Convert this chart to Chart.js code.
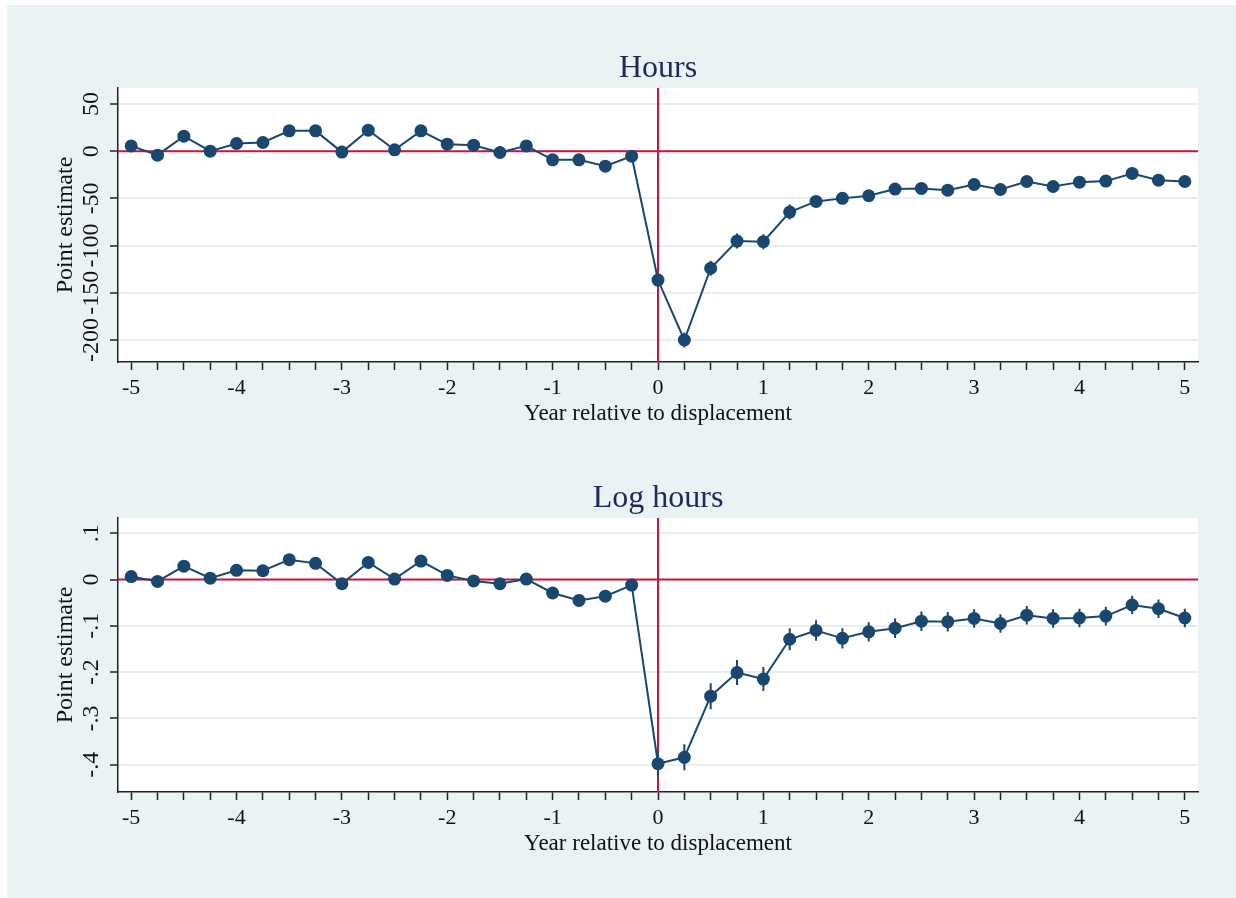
<!DOCTYPE html>
<html>
<head>
<meta charset="utf-8">
<script src="https://cdn.jsdelivr.net/npm/chart.js@4"></script>
<style>
  body { margin: 0; background: #fff; }
  #bg { position: absolute; left: 7px; top: 5px; width: 1229px; height: 893px; background: #eaf2f3; }
  .panel { position: absolute; left: 0; width: 1236px; height: 430px; }
</style>
</head>
<body>
<div id="bg"></div>
<div class="panel" style="top:10px"><canvas id="hours"></canvas></div>
<div class="panel" style="top:440px"><canvas id="loghours"></canvas></div>
<script>
// event time (years relative to displacement), quarterly
const years = [-5, -4.75, -4.5, -4.25, -4, -3.75, -3.5, -3.25, -3, -2.75, -2.5, -2.25, -2, -1.75, -1.5, -1.25, -1, -0.75, -0.5, -0.25,
  0, 0.25, 0.5, 0.75, 1, 1.25, 1.5, 1.75, 2, 2.25, 2.5, 2.75, 3, 3.25, 3.5, 3.75, 4, 4.25, 4.5, 4.75, 5];
const xTickLabels = [-5, -4, -3, -2, -1, 0, 1, 2, 3, 4, 5];

// Hours
const hoursEst = [5.6, -4.2, 15.9, 0, 8.1, 9.2, 21.5, 21.5, -1, 22.2, 1.4, 21.5, 7.4, 6.3, -1.4, 5.6, -9.2, -9.2, -15.9, -5.3,
  -136.5, -200, -124, -95.2, -95.9, -64.5, -53.2, -50, -47.2, -40.2, -39.5, -41.3, -35.3, -40.6, -32.1, -37.4, -32.8, -31.7, -23.6, -30.7, -32.1];
const hoursCi = [4, 4, 4, 4, 4, 4, 4, 4, 4, 4, 4, 4, 4, 4, 4, 4, 4, 4, 4, 4,
  7, 8, 8, 8, 8, 8, 6, 6, 6, 6, 6, 6, 6, 6, 6, 6, 6, 6, 6, 6, 6];
const hoursTicks = [50, 0, -50, -100, -150, -200];
const hoursTickLabels = ['50', '0', '-50', '-100', '-150', '-200'];

// Log hours
const logEst = [0.0065, -0.004, 0.029, 0.003, 0.020, 0.019, 0.043, 0.035, -0.009, 0.037, 0.001, 0.040, 0.009, -0.003, -0.009, 0.001, -0.029, -0.045, -0.036, -0.012,
  -0.398, -0.384, -0.252, -0.201, -0.215, -0.129, -0.110, -0.127, -0.113, -0.105, -0.090, -0.091, -0.084, -0.095, -0.077, -0.084, -0.083, -0.079, -0.055, -0.063, -0.083];
const logCi = [0.006, 0.006, 0.006, 0.006, 0.006, 0.006, 0.006, 0.006, 0.006, 0.006, 0.006, 0.006, 0.007, 0.007, 0.008, 0.008, 0.011, 0.012, 0.011, 0.01,
  0.028, 0.028, 0.028, 0.027, 0.026, 0.024, 0.022, 0.022, 0.021, 0.021, 0.021, 0.021, 0.02, 0.02, 0.02, 0.02, 0.02, 0.02, 0.02, 0.02, 0.02];
const logTicks = [0.1, 0, -0.1, -0.2, -0.3, -0.4];
const logTickLabels = ['.1', '0', '-.1', '-.2', '-.3', '-.4'];

const NAVY = '#1a476f';
const RED = '#c8173f';
const SERIF = '"Liberation Serif", "DejaVu Serif", serif';

function makePanel(id, title, est, ci, yMin, yMax, yTicks, yLabels) {
  const ctx = document.getElementById(id).getContext('2d');

  const stataLook = {
    id: 'stataLook',
    beforeDraw(chart) {
      const a = chart.chartArea;
      const c = chart.ctx;
      c.save();
      c.fillStyle = '#ffffff';
      c.fillRect(a.left, a.top, a.right - a.left, a.bottom - a.top);
      c.restore();
    },
    beforeDatasetsDraw(chart) {
      const a = chart.chartArea;
      const c = chart.ctx;
      const xs = chart.scales.x, ys = chart.scales.y;
      // reference lines at zero
      c.save();
      c.strokeStyle = RED;
      c.lineWidth = 2;
      const y0 = ys.getPixelForValue(0);
      const x0 = xs.getPixelForValue(0);
      c.beginPath();
      c.moveTo(a.left, y0); c.lineTo(a.right, y0);
      c.moveTo(x0, a.top); c.lineTo(x0, a.bottom);
      c.stroke();
      // confidence spikes
      c.strokeStyle = NAVY;
      c.lineWidth = 2;
      c.beginPath();
      years.forEach((yr, i) => {
        const px = xs.getPixelForValue(yr);
        c.moveTo(px, ys.getPixelForValue(est[i] - ci[i]));
        c.lineTo(px, ys.getPixelForValue(est[i] + ci[i]));
      });
      c.stroke();
      c.restore();
    },
    afterDraw(chart) {
      // rotated y tick labels like Stata
      const ys = chart.scales.y;
      const c = chart.ctx;
      c.save();
      c.fillStyle = '#111';
      c.font = '24px ' + SERIF;
      c.textAlign = 'center';
      c.textBaseline = 'alphabetic';
      yTicks.forEach((v, i) => {
        c.save();
        c.translate(98, ys.getPixelForValue(v));
        c.rotate(-Math.PI / 2);
        c.fillText(yLabels[i], 0, 0);
        c.restore();
      });
      c.restore();
    }
  };

  new Chart(ctx, {
    type: 'line',
    data: {
      datasets: [{
        data: years.map((yr, i) => ({ x: yr, y: est[i] })),
        borderColor: NAVY,
        borderWidth: 2,
        backgroundColor: NAVY,
        pointRadius: 6.5,
        pointBorderWidth: 0,
        pointBackgroundColor: NAVY,
        tension: 0
      }]
    },
    options: {
      responsive: true,
      maintainAspectRatio: false,
      animation: false,
      layout: { padding: { left: 0, right: 38, top: 0, bottom: 0 } },
      plugins: {
        legend: { display: false },
        tooltip: { enabled: false },
        title: {
          display: true,
          fullSize: false,
          text: title,
          color: '#1c2a55',
          font: { family: SERIF, size: 32, weight: 'normal' },
          padding: { top: 39, bottom: 0.6 }
        }
      },
      scales: {
        x: {
          type: 'linear',
          min: -5.125,
          max: 5.125,
          afterBuildTicks: s => { s.ticks = years.map(v => ({ value: v })); },
          afterFit: s => { s.height = 78; },
          ticks: {
            autoSkip: false,
            maxRotation: 0,
            color: '#111',
            padding: 5.4,
            font: { family: SERIF, size: 22 },
            callback: v => xTickLabels.includes(v) ? String(v) : ''
          },
          grid: { drawOnChartArea: false, drawTicks: true, tickLength: 8, tickColor: '#222', tickWidth: 1.5 },
          border: { display: true, color: '#222', width: 1.5 },
          title: {
            display: true,
            text: 'Year relative to displacement',
            color: '#111',
            font: { family: SERIF, size: 23 },
            padding: { top: 0, bottom: 12 }
          }
        },
        y: {
          type: 'linear',
          min: yMin,
          max: yMax,
          afterBuildTicks: s => { s.ticks = yTicks.map(v => ({ value: v })); },
          afterFit: s => { s.width = 118; },
          ticks: { display: false },
          grid: { color: '#e8eff1', lineWidth: 2, drawTicks: true, tickLength: 8, tickColor: '#222', tickWidth: 1.5 },
          border: { display: true, color: '#222', width: 1.5 },
          title: {
            display: true,
            text: 'Point estimate',
            color: '#111',
            font: { family: SERIF, size: 24 },
            padding: { top: 51.5, bottom: 0 }
          }
        }
      }
    },
    plugins: [stataLook]
  });
}

document.addEventListener('DOMContentLoaded', function () {
  makePanel('hours', 'Hours', hoursEst, hoursCi, -223.3, 66.9, hoursTicks, hoursTickLabels);
  makePanel('loghours', 'Log hours', logEst, logCi, -0.459, 0.133, logTicks, logTickLabels);
});
</script>
</body>
</html>
